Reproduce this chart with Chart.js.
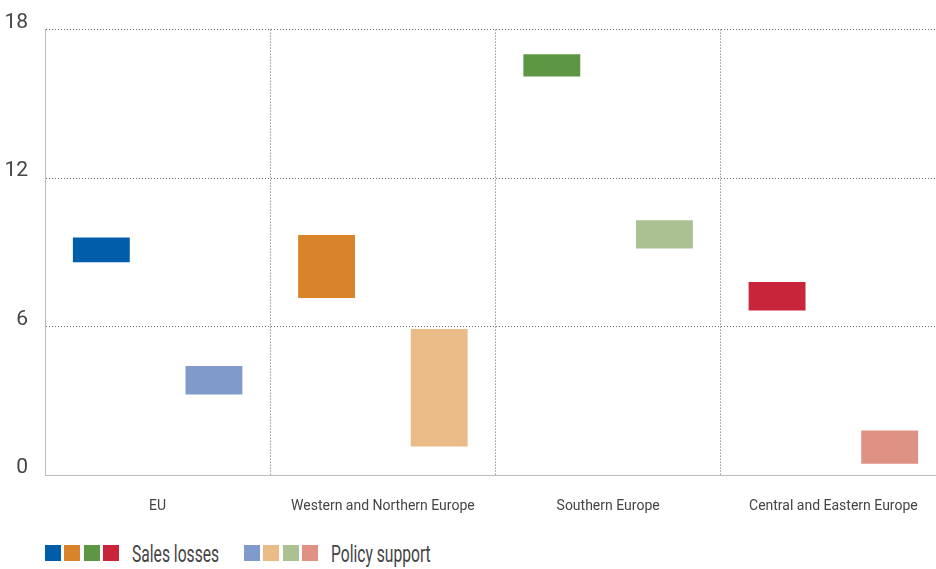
<!DOCTYPE html>
<html>
<head>
<meta charset="utf-8">
<script src="https://cdn.jsdelivr.net/npm/chart.js@4/dist/chart.umd.min.js"></script>
<style>
  html, body { margin: 0; padding: 0; background: #fff; overflow: hidden; width: 936px; height: 569px; position: relative; }
  #grafica { position: absolute; left: 0; top: 0; }
  .sq { position: absolute; top: 545px; width: 16px; height: 16px; }
  .txt { position: absolute; top: 542px; font-family: Roboto, sans-serif; font-size: 23px; line-height: 26px; color: #444; white-space: nowrap; transform: scaleX(0.68); transform-origin: left top; }
</style>
</head>
<body>
<canvas id="grafica" width="946" height="520"></canvas>
<div id="legend"></div>
<script>
// Datos de la gráfica (rangos flotantes: [inicio, fin])
var categorias = ["EU", "Western and Northern Europe", "Southern Europe", "Central and Eastern Europe"];
var perdidasVentas = [[8.6, 9.6], [7.15, 9.7], [16.1, 17.0], [6.65, 7.8]];
var apoyoPolitico = [[3.25, 4.4], [1.15, 5.9], [9.15, 10.3], [0.45, 1.8]];
var ticksY = [0, 6, 12, 18];

var coloresVentas = ["#005DAA", "#D9832A", "#5D9744", "#C8243A"];
var coloresApoyo = ["#819ACC", "#E9BB87", "#AAC192", "#DF9184"];

var fuente = "Roboto, sans-serif";

var chartData = {
  labels: categorias,
  datasets: [
    { label: "Sales losses", data: perdidasVentas, backgroundColor: coloresVentas },
    { label: "Policy support", data: apoyoPolitico, backgroundColor: coloresApoyo }
  ]
};

var chartOptions = {
  responsive: false,
  animation: false,
  layout: { padding: { top: 28, right: 0, bottom: 0, left: 0 } },
  plugins: { legend: { display: false }, tooltip: { enabled: false } },
  datasets: { bar: { categoryPercentage: 1.0, barPercentage: 0.505 } },
  scales: {
    x: {
      grid: { color: "#666", lineWidth: 1, drawTicks: false, offset: true },
      border: { color: "#bbb", dash: [1, 2] },
      ticks: { color: "#444", font: { family: fuente, size: 14 }, padding: 23 },
      afterFit: function (scale) { scale.height = 45; }
    },
    y: {
      min: 0,
      max: 18,
      afterBuildTicks: function (scale) { scale.ticks = ticksY.map(function (v) { return { value: v }; }); },
      grid: { color: "#666", lineWidth: 1, drawTicks: false },
      border: { color: "#bbb", dash: [1, 2] },
      ticks: { color: "#444", font: { family: fuente, size: 21 }, padding: 17, labelOffset: -7 },
      afterFit: function (scale) { scale.width = 45; }
    }
  }
};

var grafica = new Chart(document.getElementById("grafica"), {
  type: "bar",
  data: chartData,
  options: chartOptions
});

// Leyenda en HTML (cuatro cuadros por serie)
function crearLeyenda() {
  var cont = document.getElementById("legend");
  var grupos = [
    { colores: coloresVentas, texto: "Sales losses", x: 45, xt: 132 },
    { colores: coloresApoyo, texto: "Policy support", x: 244, xt: 331 }
  ];
  grupos.forEach(function (g) {
    g.colores.forEach(function (c, i) {
      var s = document.createElement("span");
      s.className = "sq";
      s.style.background = c;
      s.style.left = (g.x + i * 19.3) + "px";
      cont.appendChild(s);
    });
    var t = document.createElement("span");
    t.className = "txt";
    t.style.left = g.xt + "px";
    t.textContent = g.texto;
    cont.appendChild(t);
  });
}
crearLeyenda();
</script>
</body>
</html>
